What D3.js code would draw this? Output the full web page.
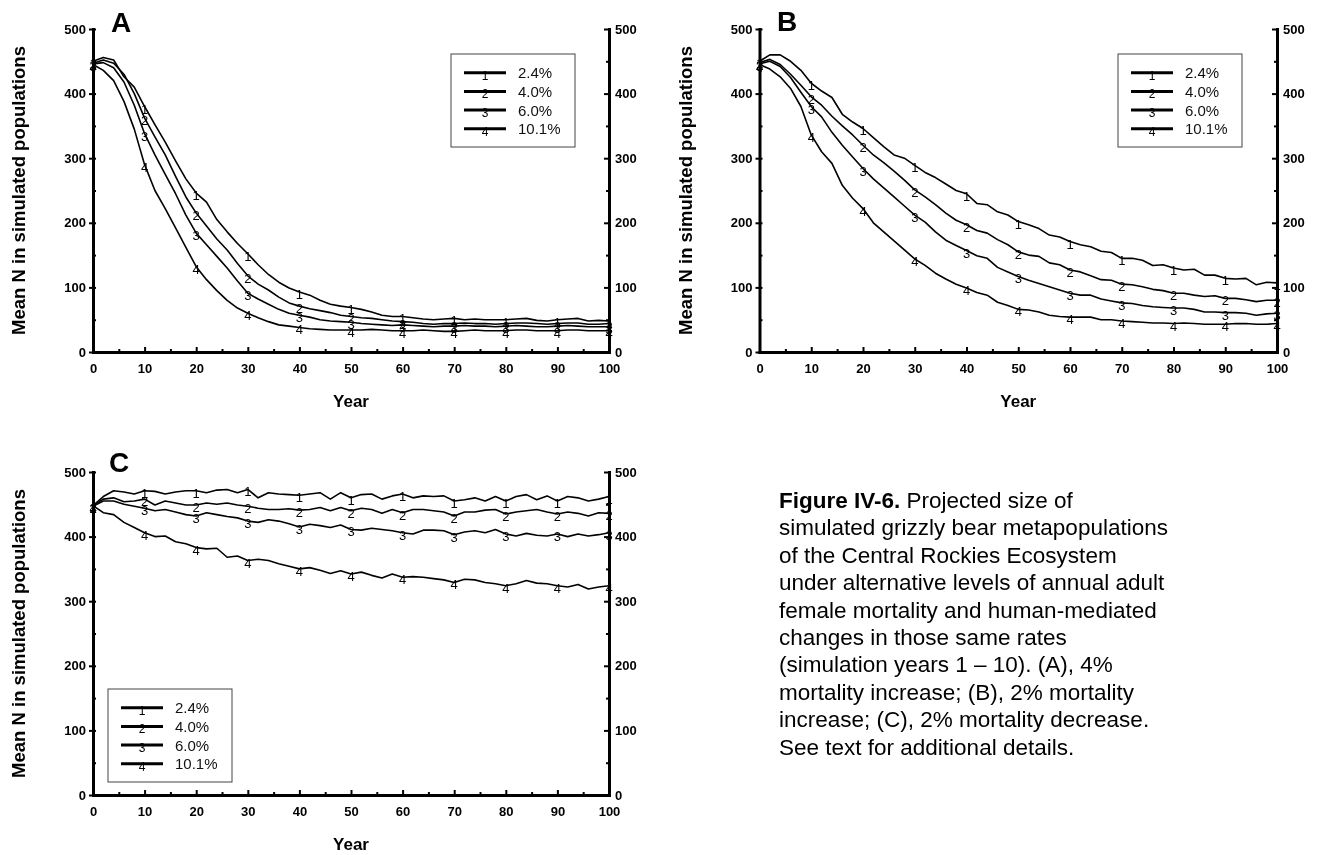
<!DOCTYPE html>
<html>
<head>
<meta charset="utf-8">
<script src="https://cdn.jsdelivr.net/npm/d3@7"></script>
<style>
  body { margin: 0; background: #fff; }
  svg { display: block; font-family: Arial, "Liberation Sans", Helvetica, sans-serif; will-change: transform; }
</style>
</head>
<body>
<div id="chart"></div>
<script>
// simulation years (every 2nd year)
const years = [0, 2, 4, 6, 8, 10, 12, 14, 16, 18, 20, 22, 24, 26, 28, 30, 32, 34, 36, 38, 40,
  42, 44, 46, 48, 50, 52, 54, 56, 58, 60, 62, 64, 66, 68, 70, 72, 74, 76, 78, 80,
  82, 84, 86, 88, 90, 92, 94, 96, 98, 100];

const yTicks = [0, 100, 200, 300, 400, 500];
const yMinor = [50, 150, 250, 350, 450];
const xTicks = [0, 10, 20, 30, 40, 50, 60, 70, 80, 90, 100];
const xMinor = [5, 15, 25, 35, 45, 55, 65, 75, 85, 95];
const seriesMarks = ["1", "2", "3", "4"];
const legendLabels = ["2.4%", "4.0%", "6.0%", "10.1%"];

// panel A: 4% mortality increase
const a1 = [450, 456, 452, 426, 410, 380, 352, 325, 296, 268, 246, 232, 205, 186, 168, 152, 135, 120, 108, 99, 93,
  88, 80, 74, 71, 69, 66, 62, 57, 55, 55, 53, 51, 50, 51, 52, 50, 51, 50, 50, 50,
  51, 52, 49, 48, 50, 51, 52, 48, 49, 48];
const a2 = [447, 452, 447, 430, 400, 362, 333, 305, 272, 240, 215, 195, 175, 158, 137, 118, 105, 96, 85, 76, 71,
  67, 64, 61, 57, 55, 53, 52, 50, 48, 47, 46, 44, 43, 44, 44, 45, 44, 44, 43, 44,
  45, 45, 44, 43, 44, 45, 45, 43, 43, 44];
const a3 = [446, 448, 440, 418, 382, 338, 305, 275, 245, 212, 184, 166, 148, 130, 110, 91, 82, 74, 66, 60, 57,
  54, 50, 48, 47, 46, 44, 43, 42, 41, 42, 41, 40, 39, 40, 40, 41, 40, 40, 39, 40,
  41, 40, 39, 39, 40, 41, 40, 39, 39, 39];
const a4 = [445, 436, 420, 388, 345, 290, 250, 222, 192, 162, 132, 112, 95, 80, 68, 60, 53, 47, 42, 40, 38,
  36, 35, 34, 34, 34, 34, 35, 34, 33, 33, 33, 34, 33, 32, 32, 33, 34, 33, 33, 33,
  34, 34, 33, 33, 33, 34, 34, 33, 33, 33];

// panel B: 2% mortality increase
const b1 = [450, 460, 460, 450, 436, 416, 404, 394, 368, 356, 346, 332, 318, 305, 300, 289, 278, 270, 260, 250, 245,
  230, 228, 217, 212, 202, 197, 191, 181, 178, 171, 166, 163, 156, 154, 145, 145, 142, 134, 135, 130,
  127, 128, 119, 119, 114, 113, 114, 104, 108, 107];
const b2 = [448, 453, 445, 430, 413, 395, 382, 365, 350, 336, 320, 305, 293, 280, 266, 251, 240, 228, 215, 204, 197,
  188, 184, 174, 166, 155, 150, 148, 138, 135, 127, 124, 118, 112, 111, 105, 104, 101, 97, 95, 91,
  91, 88, 86, 87, 83, 83, 81, 78, 80, 80];
const b3 = [446, 450, 442, 425, 402, 380, 364, 340, 320, 302, 284, 268, 254, 240, 226, 212, 201, 186, 173, 165, 157,
  149, 145, 131, 124, 117, 111, 106, 101, 96, 91, 88, 88, 82, 79, 76, 75, 72, 70, 69, 68,
  68, 66, 62, 62, 61, 61, 60, 57, 59, 60];
const b4 = [445, 438, 426, 408, 380, 336, 310, 292, 258, 238, 222, 200, 186, 172, 158, 144, 134, 122, 113, 105, 99,
  92, 88, 77, 72, 66, 65, 62, 57, 55, 54, 54, 54, 50, 50, 48, 47, 46, 45, 45, 44,
  45, 44, 43, 43, 43, 44, 44, 43, 43, 44];

// panel C: 2% mortality decrease
const c1 = [448, 462, 471, 469, 466, 471, 470, 466, 469, 471, 471, 468, 472, 473, 468, 473, 460, 468, 466, 465, 464,
  466, 468, 458, 468, 460, 465, 466, 458, 463, 466, 460, 463, 462, 463, 455, 457, 460, 455, 462, 455,
  462, 465, 457, 463, 455, 462, 460, 455, 458, 462];
const c2 = [448, 458, 460, 454, 455, 458, 449, 455, 452, 449, 449, 452, 450, 452, 449, 447, 444, 442, 442, 443, 441,
  442, 445, 440, 445, 440, 444, 442, 436, 442, 437, 442, 442, 440, 438, 432, 438, 438, 441, 442, 435,
  438, 440, 442, 438, 435, 438, 436, 432, 437, 436];
const c3 = [447, 455, 455, 450, 447, 444, 440, 442, 438, 434, 432, 437, 434, 431, 429, 424, 422, 426, 424, 420, 415,
  419, 417, 414, 418, 411, 410, 413, 411, 409, 406, 404, 410, 410, 409, 403, 407, 409, 406, 411, 404,
  401, 405, 402, 401, 404, 400, 404, 401, 403, 406];
const c4 = [448, 437, 434, 422, 414, 406, 400, 401, 392, 389, 383, 381, 382, 368, 370, 363, 365, 363, 358, 354, 350,
  352, 348, 343, 347, 342, 345, 340, 336, 342, 337, 338, 337, 335, 333, 329, 334, 333, 329, 327, 324,
  327, 332, 328, 327, 324, 322, 326, 319, 322, 324];

const captionLines = [
  "Projected size of",
  "simulated grizzly bear metapopulations",
  "of the Central Rockies Ecosystem",
  "under alternative levels of annual adult",
  "female mortality and human-mediated",
  "changes in those same rates",
  "(simulation years 1 \u2013 10).  (A), 4%",
  "mortality increase; (B), 2% mortality",
  "increase; (C), 2% mortality decrease.",
  "See text for additional details."
];

const W = 1320, H = 855;
const svg = d3.select("#chart").append("svg").attr("width", W).attr("height", H);

function styleAxis(g) {
  g.select(".domain").attr("stroke", "#000").attr("stroke-width", 3).attr("stroke-linecap", "square");
  g.selectAll(".tick line").attr("stroke", "#000").attr("stroke-width", 2);
  g.selectAll("text").attr("font-size", 13).attr("font-weight", "bold").attr("fill", "#000")
    .attr("font-family", "Arial, 'Liberation Sans', sans-serif");
}

function minorAxis(g) {
  g.select(".domain").remove();
  g.selectAll(".tick line").attr("stroke", "#000").attr("stroke-width", 2);
}

function drawPanel(p) {
  const x = d3.scaleLinear().domain([0, 100]).range([p.left, p.right]);
  const y = d3.scaleLinear().domain([0, 500]).range([p.bottom, p.top]);
  const g = svg.append("g");

  // axes
  g.append("g").attr("transform", "translate(" + p.left + ",0)")
    .call(d3.axisLeft(y).tickValues(yTicks).tickSizeInner(4).tickSizeOuter(0).tickPadding(3))
    .call(styleAxis)
    .call(function (a) { a.selectAll(".tick line").attr("x1", 3); });
  g.append("g").attr("transform", "translate(" + p.left + ",0)")
    .call(d3.axisLeft(y).tickValues(yMinor).tickSize(-3).tickFormat(""))
    .call(minorAxis);

  g.append("g").attr("transform", "translate(" + p.right + ",0)")
    .call(d3.axisRight(y).tickValues(yTicks).tickSizeInner(-5).tickSizeOuter(0).tickPadding(6))
    .call(styleAxis);
  g.append("g").attr("transform", "translate(" + p.right + ",0)")
    .call(d3.axisRight(y).tickValues(yMinor).tickSize(-3).tickFormat(""))
    .call(minorAxis);

  g.append("g").attr("transform", "translate(0," + p.bottom + ")")
    .call(d3.axisBottom(x).tickValues(xTicks).tickSizeInner(-5).tickSizeOuter(0).tickPadding(12))
    .call(styleAxis);
  g.append("g").attr("transform", "translate(0," + p.bottom + ")")
    .call(d3.axisBottom(x).tickValues(xMinor).tickSize(-3).tickFormat(""))
    .call(minorAxis);

  // series lines + numbered markers every 10 years
  const line = d3.line()
    .x(function (d) { return x(d.yr); })
    .y(function (d) { return y(d.v); });

  p.series.forEach(function (vals, k) {
    const pts = years.map(function (yr, i) { return { yr: yr, v: vals[i] }; });
    g.append("path").datum(pts)
      .attr("d", line)
      .attr("fill", "none")
      .attr("stroke", "#000")
      .attr("stroke-width", 1.6)
      .attr("stroke-linejoin", "round");
    g.append("g").selectAll("text")
      .data(pts.filter(function (d) { return d.yr % 10 === 0; }))
      .enter().append("text")
      .attr("x", function (d) { return x(d.yr); })
      .attr("y", function (d) { return y(d.v) + 7; })
      .attr("text-anchor", "middle")
      .attr("font-size", 13)
      .attr("fill", "#000")
      .text(seriesMarks[k]);
  });

  // panel letter
  svg.append("text").attr("x", p.letterX).attr("y", p.letterY)
    .attr("font-size", 28).attr("font-weight", "bold").text(p.letter);

  // axis titles
  svg.append("text")
    .attr("transform", "translate(" + p.titleX + "," + ((p.top + p.bottom) / 2) + ") rotate(-90)")
    .attr("text-anchor", "middle")
    .attr("font-size", 18.5).attr("font-weight", "bold")
    .text("Mean N in simulated populations");
  svg.append("text")
    .attr("x", (p.left + p.right) / 2).attr("y", p.bottom + 55)
    .attr("text-anchor", "middle")
    .attr("font-size", 17).attr("font-weight", "bold")
    .text("Year");

  // legend
  const lg = svg.append("g").attr("transform", "translate(" + p.legend[0] + "," + p.legend[1] + ")");
  lg.append("rect").attr("width", 124).attr("height", 93)
    .attr("fill", "#fff").attr("stroke", "#444").attr("stroke-width", 1);
  legendLabels.forEach(function (lab, i) {
    const ly = 18.7 * (i + 1);
    lg.append("line").attr("x1", 13).attr("x2", 55).attr("y1", ly).attr("y2", ly)
      .attr("stroke", "#000").attr("stroke-width", 3);
    lg.append("text").attr("x", 34).attr("y", ly + 7).attr("text-anchor", "middle")
      .attr("font-size", 12).text(seriesMarks[i]);
    lg.append("text").attr("x", 67).attr("y", ly).attr("dominant-baseline", "central")
      .attr("font-size", 15).attr("fill", "#111").text(lab);
  });
}

drawPanel({ left: 93, right: 609, top: 29, bottom: 352, letter: "A", letterX: 111, letterY: 32,
  titleX: 25, legend: [451, 54], series: [a1, a2, a3, a4] });
drawPanel({ left: 759.5, right: 1277, top: 29, bottom: 352, letter: "B", letterX: 777, letterY: 31,
  titleX: 692, legend: [1118, 54], series: [b1, b2, b3, b4] });
drawPanel({ left: 93, right: 609, top: 472, bottom: 795, letter: "C", letterX: 109, letterY: 472,
  titleX: 25, legend: [108, 689], series: [c1, c2, c3, c4] });

// figure caption
const cap = svg.append("text").attr("font-size", 22.5).attr("fill", "#000");
captionLines.forEach(function (t, i) {
  const ts = cap.append("tspan").attr("x", 779).attr("y", 508 + i * 27.4);
  if (i === 0) {
    ts.append("tspan").attr("font-weight", "bold").text("Figure IV-6.");
    ts.append("tspan").text(" " + t);
  } else {
    ts.text(t);
  }
});
</script>
</body>
</html>
